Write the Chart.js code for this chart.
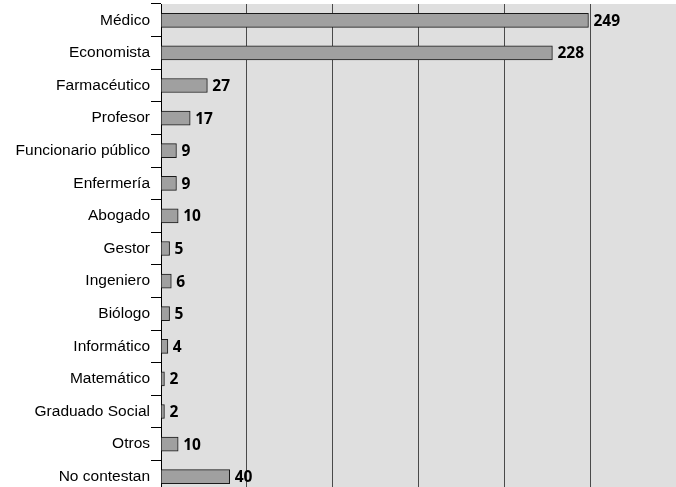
<!DOCTYPE html>
<html>
<head>
<meta charset="utf-8">
<style>
  html, body { margin: 0; padding: 0; background: #fff; overflow: hidden; }
  #wrap { width: 676px; height: 493px; }
</style>
<script src="https://cdn.jsdelivr.net/npm/chart.js@4"></script>
</head>
<body>
<div id="wrap"><canvas id="graph1"></canvas></div>
<script>
const categories = ['Médico', 'Economista', 'Farmacéutico', 'Profesor', 'Funcionario público',
  'Enfermería', 'Abogado', 'Gestor', 'Ingeniero', 'Biólogo', 'Informático', 'Matemático',
  'Graduado Social', 'Otros', 'No contestan'];
const valores = [249, 228, 27, 17, 9, 9, 10, 5, 6, 5, 4, 2, 2, 10, 40];

// fondo gris del area del grafico
const fondo = {
  id: 'fondo',
  beforeDraw(chart) {
    const a = chart.chartArea;
    const ctx = chart.ctx;
    ctx.save();
    ctx.fillStyle = '#dfdfdf';
    ctx.fillRect(a.left, a.top, a.right - a.left, a.bottom - a.top);
    ctx.restore();
  }
};

// numero al final de cada barra
const etiquetas = {
  id: 'etiquetas',
  afterDatasetsDraw(chart) {
    const ctx = chart.ctx;
    const meta = chart.getDatasetMeta(0);
    ctx.save();
    ctx.font = 'bold 15.5px "Open Sans"';
    ctx.fillStyle = '#000';
    ctx.textBaseline = 'middle';
    meta.data.forEach(function (bar, i) {
      ctx.fillText(valores[i], bar.x + 5, bar.y + 1);
    });
    ctx.restore();
  }
};

const data = {
  labels: categories,
  datasets: [{
    data: valores,
    backgroundColor: '#a0a0a0',
    borderColor: '#1a1a1a',
    borderWidth: 1,
    barThickness: 14
  }]
};

new Chart(document.querySelector('#graph1'), {
  type: 'bar',
  data: data,
  plugins: [fondo, etiquetas],
  options: {
    indexAxis: 'y',
    responsive: true,
    maintainAspectRatio: false,
    animation: false,
    layout: { padding: { top: 4, right: 0, bottom: 0, left: 0 } },
    plugins: {
      legend: { display: false },
      tooltip: { enabled: false }
    },
    scales: {
      x: {
        min: 0,
        max: 300,
        afterFit(scale) { scale.height = 0; scale.paddingLeft = 0; scale.paddingRight = 0; },
        ticks: { stepSize: 50, display: false },
        grid: { color: '#4a4a4a', lineWidth: 1, drawTicks: false },
        border: { display: false }
      },
      y: {
        afterFit(scale) {
          scale.width = 161;
          scale.paddingTop = 0;
          scale.paddingBottom = 0;
        },
        ticks: {
          color: '#000',
          padding: 1,
          font: { family: 'Liberation Sans', size: 15.5 }
        },
        grid: {
          offset: true,
          drawOnChartArea: false,
          tickLength: 10,
          color: '#000'
        },
        border: { color: '#000', width: 1 }
      }
    }
  }
});
</script>
</body>
</html>
